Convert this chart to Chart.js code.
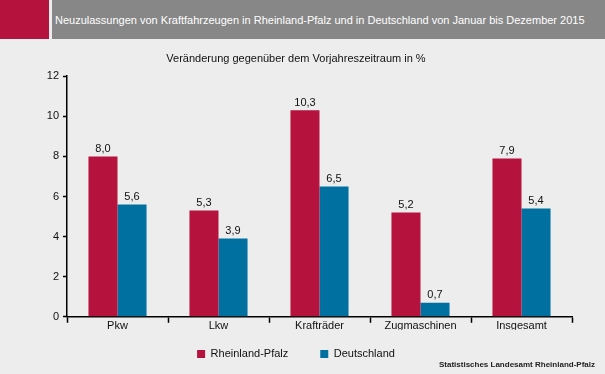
<!DOCTYPE html>
<html>
<head>
<meta charset="utf-8">
<script src="https://cdn.jsdelivr.net/npm/chart.js@4/dist/chart.umd.min.js"></script>
<style>
  body { margin: 0; background: #ecedec; font-family: "Liberation Sans", Arial, sans-serif; }
  #wrap { position: relative; width: 605px; height: 374px; overflow: hidden; }
  #kopf-rot { position: absolute; left: 0; top: 0; width: 49px; height: 39px; background: #b5133e; }
  #kopf { position: absolute; left: 52px; top: 0; width: 553px; height: 39px; background: #878787;
          color: #fff; font-size: 11px; line-height: 40px; padding-left: 3px; box-sizing: border-box; white-space: nowrap; }
  #quelle { position: absolute; right: 10px; top: 360px; font-size: 8px; color: #222; font-weight: bold; white-space: nowrap; }
  canvas { position: absolute; left: 0; top: 0; }
</style>
</head>
<body>
<div id="wrap">
  <div id="kopf-rot"></div>
  <div id="kopf">Neuzulassungen von Kraftfahrzeugen in Rheinland-Pfalz und in Deutschland von Januar bis Dezember 2015</div>
  <canvas id="grafico" width="605" height="374"></canvas>
  <div id="quelle">Statistisches Landesamt Rheinland-Pfalz</div>
</div>
<script>
// Daten
const kategorien = ['Pkw', 'Lkw', 'Krafträder', 'Zugmaschinen', 'Insgesamt'];
const rheinlandPfalz = [8.0, 5.3, 10.3, 5.2, 7.9];
const deutschland = [5.6, 3.9, 6.5, 0.7, 5.4];
const yTicks = [0, 2, 4, 6, 8, 10, 12];

const schrift = '"Liberation Sans", Arial, sans-serif';
const legendeAbstand = 32;

// Werte über den Balken
const wertBeschriftung = {
  id: 'wertBeschriftung',
  afterDatasetsDraw(chart) {
    const ctx = chart.ctx;
    ctx.save();
    ctx.font = '11px ' + schrift;
    ctx.fillStyle = '#111';
    ctx.textAlign = 'center';
    ctx.textBaseline = 'bottom';
    chart.data.datasets.forEach(function(ds, i) {
      chart.getDatasetMeta(i).data.forEach(function(bar, j) {
        ctx.fillText(ds.data[j].toFixed(1).replace('.', ','), bar.x, bar.y - 2);
      });
    });
    ctx.restore();
  }
};

// Legende: großer Abstand zwischen den Einträgen, aber flach halten
const legendeKompakt = {
  id: 'legendeKompakt',
  beforeInit(chart) {
    const fitOrig = chart.legend.fit;
    chart.legend.fit = function() {
      fitOrig.call(this);
      this.height = 44;
    };
  },
  afterLayout(chart) {
    chart.legend.top = 354 - 5.5 - legendeAbstand;
  }
};

const ctx = document.getElementById('grafico').getContext('2d');
new Chart(ctx, {
  type: 'bar',
  data: {
    labels: kategorien,
    datasets: [{
      label: 'Rheinland-Pfalz',
      data: rheinlandPfalz,
      backgroundColor: '#b5133e',
      categoryPercentage: 0.575,
      barPercentage: 1
    }, {
      label: 'Deutschland',
      data: deutschland,
      backgroundColor: '#0070a0',
      categoryPercentage: 0.575,
      barPercentage: 1
    }]
  },
  options: {
    responsive: false,
    animation: false,
    layout: { padding: { top: 44, left: 20, right: 33, bottom: 0 } },
    plugins: {
      title: {
        display: true,
        text: 'Veränderung gegenüber dem Vorjahreszeitraum in %',
        color: '#111',
        font: { size: 11, family: schrift, weight: 'normal' },
        padding: { top: 8, bottom: 11 }
      },
      legend: {
        position: 'bottom',
        labels: {
          boxWidth: 8, boxHeight: 8, color: '#111',
          font: { size: 11, family: schrift },
          padding: legendeAbstand
        }
      },
      tooltip: { enabled: false }
    },
    scales: {
      x: {
        grid: { offset: true, drawOnChartArea: false, color: '#000', tickLength: 6, tickWidth: 1.5 },
        border: { color: '#000', width: 1.5 },
        ticks: { color: '#111', font: { size: 11, family: schrift }, padding: -3 }
      },
      y: {
        min: 0, max: 12,
        afterBuildTicks: function(s) { s.ticks = yTicks.map(v => ({ value: v })); },
        afterFit: function(s) { s.width = 47; },
        grid: { drawOnChartArea: false, color: '#000', tickLength: 4, tickWidth: 1.5 },
        border: { color: '#000', width: 1.5 },
        ticks: { color: '#111', font: { size: 11, family: schrift }, padding: 4 }
      }
    }
  },
  plugins: [wertBeschriftung, legendeKompakt]
});
</script>
</body>
</html>
